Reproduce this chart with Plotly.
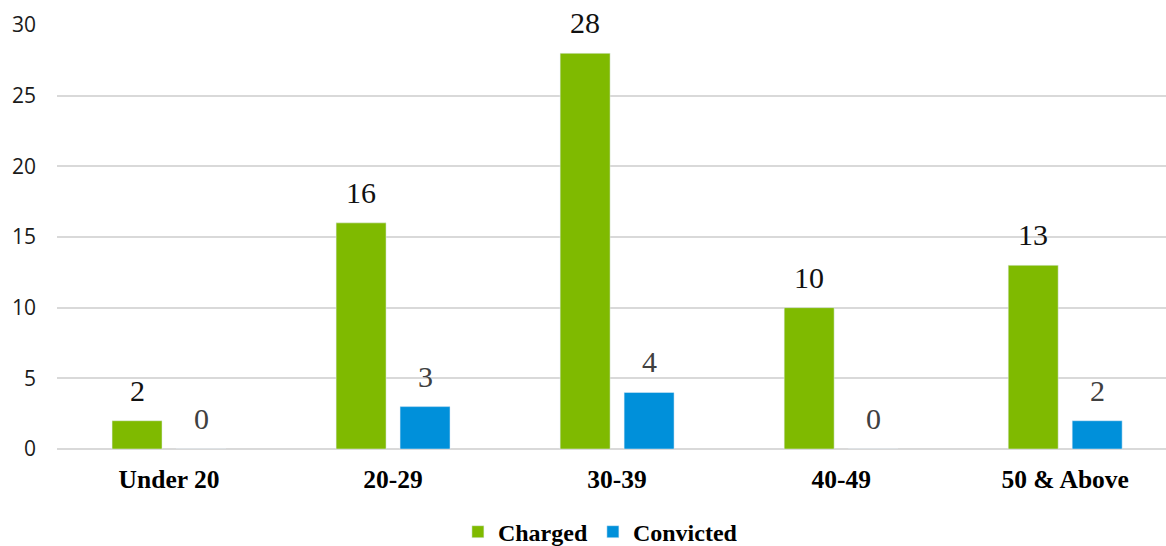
import plotly.graph_objects as go

categories = ["Under 20", "20-29", "30-39", "40-49", "50 & Above"]
charged = [2, 16, 28, 10, 13]
convicted = [0, 3, 4, 0, 2]
y_ticks = [0, 5, 10, 15, 20, 25, 30]

GREEN = "#7FBA00"
BLUE = "#0090DA"
SERIF = "Liberation Serif"

fig = go.Figure()
fig.add_trace(go.Bar(name="Charged", x=categories, y=charged, marker_color=GREEN))
fig.add_trace(go.Bar(name="Convicted", x=categories, y=convicted, marker_color=BLUE))

annotations = []
for cat, v in zip(categories, charged):
    annotations.append(dict(x=cat, y=v, xref="x", yref="y", text=str(v), showarrow=False,
                            xshift=-32, yshift=12, yanchor="bottom",
                            font=dict(family=SERIF, size=30, color="#111111")))
for cat, v in zip(categories, convicted):
    annotations.append(dict(x=cat, y=v, xref="x", yref="y", text=str(v), showarrow=False,
                            xshift=32, yshift=12, yanchor="bottom",
                            font=dict(family=SERIF, size=30, color="#404040")))

fig.update_layout(
    width=1166, height=546,
    margin=dict(l=57, r=0, t=25, b=97, autoexpand=False),
    paper_bgcolor="white", plot_bgcolor="white",
    barmode="group", bargap=0.429, bargroupgap=0.219,
    showlegend=True,
    legend=dict(orientation="h", x=0.49, xanchor="center", y=-0.196, yanchor="middle",
                font=dict(family=SERIF, size=24, color="#000000", weight="bold"),
                itemclick=False, traceorder="normal"),
    annotations=annotations,
    xaxis=dict(range=[-0.5, 4.45], showgrid=False, showline=False, zeroline=False,
               ticks="", ticklabelstandoff=12, automargin=False,
               tickfont=dict(family=SERIF, size=25.5, color="#000000", weight="bold")),
    yaxis=dict(range=[0, 30], tickvals=y_ticks, showgrid=True, gridcolor="#D9D9D9",
               gridwidth=1.5, zeroline=True, zerolinecolor="#D9D9D9", zerolinewidth=1.5,
               showline=False, ticks="", ticklabelstandoff=20, automargin=False,
               tickfont=dict(family="Open Sans", size=21, color="#1a1a1a")),
)

fig.write_html("out.html")
